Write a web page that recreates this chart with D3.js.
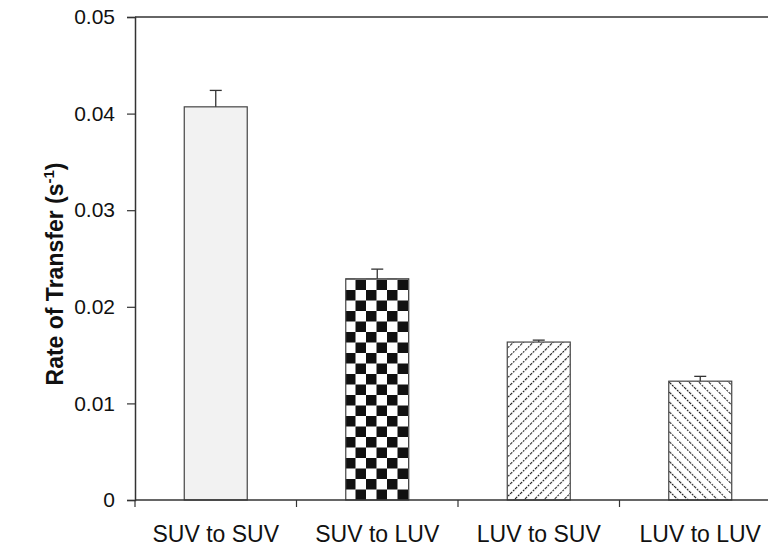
<!DOCTYPE html>
<html>
<head>
<meta charset="utf-8">
<script src="https://cdn.jsdelivr.net/npm/d3@7"></script>
<style>
  body { margin: 0; background: #fff; }
  text { font-family: "Liberation Sans", Arial, sans-serif; }
</style>
</head>
<body>
<div id="wrapper"></div>
<script>
const categories = ["SUV to SUV", "SUV to LUV", "LUV to SUV", "LUV to LUV"];
const rates = [0.0407, 0.0229, 0.01635, 0.0123];
const errors = [0.0017, 0.0010, 0.0002, 0.0005];
const yTicks = [0, 0.01, 0.02, 0.03, 0.04, 0.05];

const dimension = {
    width: 768,
    height: 549,
    margin: { top: 17, left: 135, bottom: 49, right: -13 }
};
dimension.boundedWidth = dimension.width - dimension.margin.left - dimension.margin.right;
dimension.boundedHeight = dimension.height - dimension.margin.top - dimension.margin.bottom;

const svg = d3.select("#wrapper").append("svg")
    .attr("width", dimension.width)
    .attr("height", dimension.height);

// fill patterns
const defs = svg.append("defs");
const checker = defs.append("pattern")
    .attr("id", "checker")
    .attr("patternUnits", "userSpaceOnUse")
    .attr("width", 21).attr("height", 21);
checker.append("rect").attr("width", 21).attr("height", 21).attr("fill", "#fff");
checker.append("rect").attr("width", 10.5).attr("height", 10.5).attr("fill", "#111");
checker.append("rect").attr("x", 10.5).attr("y", 10.5).attr("width", 10.5).attr("height", 10.5).attr("fill", "#111");

function hatch(id, angle) {
    const p = defs.append("pattern")
        .attr("id", id)
        .attr("patternUnits", "userSpaceOnUse")
        .attr("width", 7).attr("height", 7)
        .attr("patternTransform", `rotate(${angle})`);
    p.append("rect").attr("width", 7).attr("height", 7).attr("fill", "#fff");
    p.append("line").attr("x1", 0).attr("y1", 0).attr("x2", 0).attr("y2", 7)
        .attr("stroke", "#222").attr("stroke-width", 2.2).attr("stroke-dasharray", "2,1");
}
hatch("hatchR", 45);
hatch("hatchL", -45);
const fills = ["#f2f2f2", "url(#checker)", "url(#hatchR)", "url(#hatchL)"];

const bounded = svg.append("g")
    .attr("transform", `translate(${dimension.margin.left},${dimension.margin.top})`);

const xScaler = d3.scaleBand()
    .domain(categories)
    .range([0, dimension.boundedWidth])
    .paddingInner(0.61)
    .paddingOuter(0.305);

const yScaler = d3.scaleLinear()
    .domain([0, 0.05])
    .range([dimension.boundedHeight, 0]);

// frame: top line
bounded.append("line")
    .attr("x1", 0).attr("x2", dimension.boundedWidth)
    .attr("y1", 0).attr("y2", 0)
    .attr("stroke", "#333").attr("stroke-width", 1.5);

// bars
bounded.selectAll(".bar")
    .data(rates)
    .join("rect")
    .attr("class", "bar")
    .attr("x", (d, i) => xScaler(categories[i]))
    .attr("y", d => yScaler(d))
    .attr("width", xScaler.bandwidth())
    .attr("height", d => yScaler(0) - yScaler(d))
    .attr("fill", (d, i) => fills[i])
    .attr("stroke", "#444")
    .attr("stroke-width", 1.2);

// error bars
const err = bounded.selectAll(".err")
    .data(rates)
    .join("g")
    .attr("class", "err")
    .attr("transform", (d, i) => `translate(${xScaler(categories[i]) + xScaler.bandwidth() / 2},0)`);
err.append("line")
    .attr("y1", d => yScaler(d))
    .attr("y2", (d, i) => yScaler(d + errors[i]))
    .attr("stroke", "#333").attr("stroke-width", 1.3);
err.append("line")
    .attr("x1", -6).attr("x2", 6)
    .attr("y1", (d, i) => yScaler(d + errors[i]))
    .attr("y2", (d, i) => yScaler(d + errors[i]))
    .attr("stroke", "#333").attr("stroke-width", 1.3);

// y axis
const yAxis = d3.axisLeft(yScaler)
    .tickValues(yTicks)
    .tickFormat(d => d === 0 ? "0" : d3.format(".2f")(d))
    .tickSize(8)
    .tickPadding(12);
const yG = bounded.append("g").call(yAxis);
yG.select(".domain").attr("stroke", "#333").attr("stroke-width", 1.5);
yG.selectAll(".tick line").attr("stroke", "#333").attr("stroke-width", 1.2);
yG.selectAll(".tick text").style("font-size", "21px").attr("fill", "#111");

// x axis: ticks at band boundaries
const xAxisG = bounded.append("g")
    .attr("transform", `translate(0,${dimension.boundedHeight})`);
xAxisG.append("line")
    .attr("x1", 0).attr("x2", dimension.boundedWidth)
    .attr("stroke", "#333").attr("stroke-width", 1.5);
const step = xScaler.step();
xAxisG.selectAll(".xtick")
    .data(categories)
    .join("line")
    .attr("class", "xtick")
    .attr("x1", d => xScaler(d) - xScaler.paddingOuter() * step)
    .attr("x2", d => xScaler(d) - xScaler.paddingOuter() * step)
    .attr("y1", 0).attr("y2", 7)
    .attr("stroke", "#333").attr("stroke-width", 1.2);
xAxisG.selectAll(".xlabel")
    .data(categories)
    .join("text")
    .attr("class", "xlabel")
    .attr("x", d => xScaler(d) + xScaler.bandwidth() / 2)
    .attr("y", 42)
    .attr("text-anchor", "middle")
    .style("font-size", "23px")
    .attr("fill", "#111")
    .text(d => d);

// y label
const yLabel = svg.append("text")
    .attr("transform", `translate(63,274) rotate(-90)`)
    .attr("text-anchor", "middle")
    .style("font-size", "23px")
    .style("font-weight", "bold")
    .attr("fill", "#111");
yLabel.append("tspan").text("Rate of Transfer (s");
yLabel.append("tspan").attr("dy", -9).style("font-size", "15px").text("-1");
yLabel.append("tspan").attr("dy", 9).text(")");
</script>
</body>
</html>
